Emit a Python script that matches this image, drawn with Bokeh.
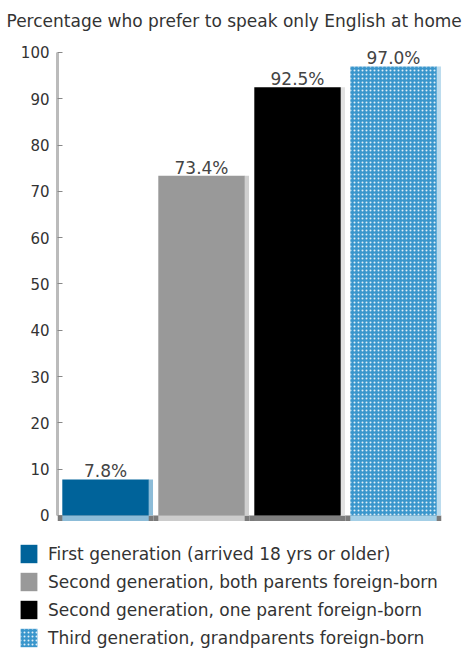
from bokeh.plotting import figure
from bokeh.models import Range1d, FactorRange, Legend, LegendItem, FixedTicker
from bokeh.embed import file_html
from bokeh.resources import INLINE
from bokeh.core.properties import value

title_text = "Percentage who prefer to speak only English at home"
categories = [
    "First generation (arrived 18 yrs or older)",
    "Second generation, both parents foreign-born",
    "Second generation, one parent foreign-born",
    "Third generation, grandparents foreign-born",
]
values = [7.8, 73.4, 92.5, 97.0]
value_labels = ["7.8%", "73.4%", "92.5%", "97.0%"]
y_ticks = [0, 10, 20, 30, 40, 50, 60, 70, 80, 90, 100]

bar_colors = ["#00639a", "#999999", "#000000", "#3a96cc"]
base_colors = ["#8cbcd8", "#cccccc", "#7f7f7f", "#a4cfe6"]
face_colors = ["#8cbcd8", "#cfcfcf", "#e2e2e2", "#bcdcee"]
hatches = [None, None, None, "dot"]

FONT = "DejaVu Sans"


def bar_style(i):
    kw = dict(fill_color=bar_colors[i], line_color=None)
    if hatches[i]:
        kw.update(hatch_pattern=hatches[i], hatch_color="white", hatch_scale=4,
                  hatch_weight=1.5, hatch_alpha=0.85)
    return kw


# ---------------- chart ----------------
p = figure(
    width=473, height=530,
    x_range=FactorRange(*categories, range_padding=0),
    y_range=Range1d(-3.24, 103.67),
    output_backend="svg", toolbar_location=None,
    x_axis_location=None,
    min_border_left=57, min_border_right=32,
    min_border_top=35, min_border_bottom=0,
)
p.outline_line_color = None
p.xgrid.grid_line_color = None
p.ygrid.grid_line_color = None

p.title.text = title_text
p.title.align = "left"
p.title.offset = -51
p.title.text_font = FONT
p.title.text_font_size = "17px"
p.title.text_font_style = "normal"
p.title.text_color = "#333333"

ax = p.yaxis[0]
ax.ticker = FixedTicker(ticks=y_ticks)
ax.bounds = (0, 100)
ax.axis_line_color = "#bbbbbb"
ax.axis_line_width = 3
ax.major_tick_in = 5
ax.major_tick_out = 0
ax.major_tick_line_color = "#888888"
ax.minor_tick_line_color = None
ax.major_label_standoff = 8
ax.major_label_text_font = FONT
ax.major_label_text_font_size = "15px"
ax.major_label_text_color = "#333333"

# base strip (3D floor)
p.vbar(x=categories, top=0, bottom=-1.2, width=1.0, fill_color="#7a7a7a", line_color=None)
p.vbar(x=categories, top=0, bottom=-1.2, width=0.9, fill_color=base_colors, line_color=None)

# light right-hand side faces of the bars
p.vbar(x=[(c, 0.47) for c in categories], top=values, bottom=0, width=0.05,
       fill_color=face_colors, line_color=None)

for i, cat in enumerate(categories):
    p.vbar(x=[cat], top=[values[i]], bottom=0, width=0.9, **bar_style(i))

p.text(x=categories, y=values, text=value_labels,
       text_align="center", text_baseline="bottom", y_offset=2,
       text_font=value(FONT), text_font_size="17px", text_color="#444444")

# ---------------- legend (separate root, full-width frame) ----------------
lg = figure(
    width=473, height=128,
    x_range=Range1d(0, 1), y_range=Range1d(0, 1),
    output_backend="svg", toolbar_location=None,
    x_axis_location=None, y_axis_location=None,
    min_border_left=0, min_border_right=0, min_border_top=0, min_border_bottom=0,
)
lg.outline_line_color = None
lg.xgrid.grid_line_color = None
lg.ygrid.grid_line_color = None

items = []
for i, cat in enumerate(categories):
    r = lg.vbar(x=[i], top=[values[i]], bottom=0, width=0.9, visible=False, **bar_style(i))
    items.append(LegendItem(label=cat, renderers=[r]))

legend = Legend(items=items, location=(18, 9), margin=0, padding=0,
                glyph_width=21, glyph_height=23, spacing=5, label_standoff=9,
                label_text_font=FONT, label_text_font_size="17px",
                label_text_color="#333333", border_line_color=None,
                background_fill_alpha=0)
lg.add_layout(legend, "center")

open("out.html", "w").write(file_html([p, lg], INLINE))
